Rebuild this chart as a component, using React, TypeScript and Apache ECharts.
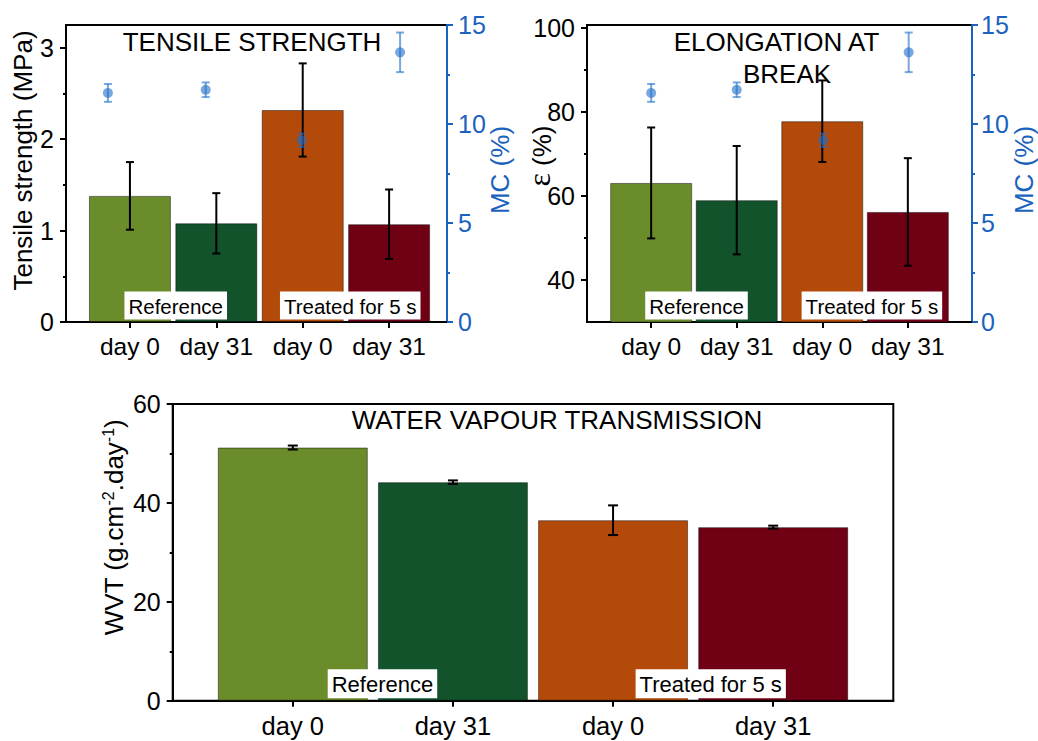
import React, { useEffect, useRef } from 'react';
import * as echarts from 'echarts';

// ---------- data ----------
const categories = ['day 0', 'day 31', 'day 0', 'day 31'];
const catPos = [1, 2, 3, 4];
const groupLabels = ['Reference', 'Treated for 5 s'];
const barColors = ['#6b8c2b', '#12532c', '#b34a0a', '#700014'];

const tsMean = [1.38, 1.08, 2.32, 1.07];
const tsErr = [0.37, 0.33, 0.51, 0.38];
const elMean = [63.1, 59.0, 77.8, 56.2];
const elErr = [13.2, 12.9, 9.7, 12.8];
const mcMean = [11.57, 11.73, 9.18, 13.62];
const mcErr = [0.45, 0.37, 0.34, 1.0];
const mcPosTS = [0.745, 1.877, 2.989, 4.127];
const mcPosEL = [1, 2, 3.01, 4.01];
const wvtMean = [51.2, 44.2, 36.5, 35.1];
const wvtErr = [0.4, 0.35, 3.0, 0.3];

const tsTicks = [0, 1, 2, 3];
const tsMinor = [0.5, 1.5, 2.5];
const elTicks = [40, 60, 80, 100];
const elMinor = [50, 70, 90];

const FONT = "'Liberation Sans', Arial, sans-serif";
const SERIF = "'Liberation Serif', 'DejaVu Serif', serif";
const BLUE = '#1b62be';
const MC_COLOR = 'rgba(30,110,200,0.6)';

const xAxisCfg = (gridIndex: number, min: number, max: number, fontSize: number) => ({
  type: 'value', gridIndex, min, max,
  splitLine: { show: false },
  axisLine: { show: true, onZero: false, lineStyle: { color: '#000', width: 2 } },
  axisTick: { show: true, customValues: catPos, length: 6, lineStyle: { color: '#000', width: 2 } },
  axisLabel: {
    show: true, customValues: catPos, fontSize, color: '#000', margin: 12, fontFamily: FONT,
    formatter: (v: number) => categories[Math.round(v) - 1] ?? '',
  },
});

const leftAxisCfg = (gridIndex: number, min: number, max: number, ticks: number[] | null, name: any, nameGap: number, padLeft: number, rich: any, fontSize: number) => ({
  type: 'value', gridIndex, min, max, position: 'left',
  ...(ticks ? {} : { interval: 20 }),
  splitLine: { show: false },
  axisLine: { show: true, onZero: false, lineStyle: { color: '#000', width: 2 } },
  axisTick: { show: true, ...(ticks ? { customValues: ticks } : {}), length: 6, lineStyle: { color: '#000', width: 2 } },
  minorTick: ticks ? { show: false } : { show: true, splitNumber: 2, length: 3, lineStyle: { color: '#000', width: 2 } },
  axisLabel: { show: true, ...(ticks ? { customValues: ticks } : {}), fontSize, color: '#000', margin: 12, fontFamily: FONT },
  name, nameLocation: 'middle', nameRotate: 90, nameGap, nameMoveOverlap: false,
  nameTextStyle: { fontSize: 26, color: '#000', fontFamily: FONT, padding: [0, 0, 0, padLeft], rich },
});

const minorAxisCfg = (gridIndex: number, min: number, max: number, vals: number[]) => ({
  type: 'value', gridIndex, min, max, position: 'left',
  splitLine: { show: false },
  axisLine: { show: false },
  axisTick: { show: true, customValues: vals, length: 3, lineStyle: { color: '#000', width: 2 } },
  axisLabel: { show: false },
});

const rightAxisCfg = (gridIndex: number, nameGap: number, margin: number) => ({
  type: 'value', gridIndex, min: 0, max: 15, interval: 5, position: 'right',
  splitLine: { show: false },
  axisLine: { show: true, onZero: false, lineStyle: { color: BLUE, width: 2 } },
  axisTick: { show: true, length: 6, lineStyle: { color: BLUE, width: 2 } },
  minorTick: { show: true, splitNumber: 2, length: 3, lineStyle: { color: BLUE, width: 2 } },
  axisLabel: { show: true, fontSize: 25, color: BLUE, margin, fontFamily: FONT },
  name: 'MC (%)', nameLocation: 'middle', nameRotate: 90, nameGap, nameMoveOverlap: false,
  nameTextStyle: { fontSize: 26, color: BLUE, fontFamily: FONT, padding: [0, 0, 0, 7] },
});

const barSeries = (xIdx: number, yIdx: number, means: number[], barWidth: number) => ({
  type: 'bar', xAxisIndex: xIdx, yAxisIndex: yIdx, barWidth, z: 2, silent: true,
  itemStyle: { borderColor: 'rgba(0,0,0,0.45)', borderWidth: 1 },
  data: means.map((m, i) => ({ value: [catPos[i], m], itemStyle: { color: barColors[i] } })),
});

const errorSeries = (xIdx: number, yIdx: number, xs: number[], means: number[], errs: number[], color: string, capW: number, lw: number, z: number) => ({
  type: 'custom', xAxisIndex: xIdx, yAxisIndex: yIdx, z, silent: true,
  encode: { x: 0, y: 1 },
  data: means.map((m, i) => [xs[i], m, errs[i]]),
  renderItem: (_p: any, api: any) => {
    const x = api.value(0), m = api.value(1), e = api.value(2);
    const t = api.coord([x, m + e]);
    const b = api.coord([x, m - e]);
    const h = capW / 2;
    const style = { stroke: color, lineWidth: lw };
    return {
      type: 'group',
      children: [
        { type: 'line', shape: { x1: t[0], y1: t[1], x2: b[0], y2: b[1] }, style },
        { type: 'line', shape: { x1: t[0] - h, y1: t[1], x2: t[0] + h, y2: t[1] }, style },
        { type: 'line', shape: { x1: b[0] - h, y1: b[1], x2: b[0] + h, y2: b[1] }, style },
      ],
    };
  },
});

const mcScatter = (xIdx: number, yIdx: number, xs: number[]) => ({
  type: 'scatter', xAxisIndex: xIdx, yAxisIndex: yIdx, z: 4, silent: true,
  symbolSize: 10, itemStyle: { color: MC_COLOR, opacity: 1 },
  data: mcMean.map((m, i) => [xs[i], m]),
});

const groupLabelSeries = (xIdx: number, yIdx: number, xs: number[], yBase: number, fontSize: number, pad: number[]) => ({
  type: 'scatter', xAxisIndex: xIdx, yAxisIndex: yIdx, z: 6, silent: true,
  symbolSize: 1, itemStyle: { color: 'rgba(0,0,0,0)', opacity: 1 },
  data: xs.map((x, i) => ({ value: [x, yBase], name: groupLabels[i] })),
  label: {
    show: true, position: 'top', distance: 2, formatter: '{b}', color: '#000', opacity: 1,
    fontSize, fontFamily: FONT, backgroundColor: '#ffffff', padding: pad,
  },
});

const titleText = (text: string, x: number, y: number) => ({
  type: 'text', x, y, silent: true, z: 10,
  style: { text, fill: '#000', fontSize: 26, fontFamily: FONT, align: 'center', verticalAlign: 'middle' },
});

export default function App() {
  const ref = useRef<HTMLDivElement>(null);
  useEffect(() => {
    if (!ref.current) return;
    const chart = echarts.init(ref.current, null, { renderer: 'svg' });
    const option: any = {
      animation: false,
      textStyle: { fontFamily: FONT },
      grid: [
        { left: 66, top: 25, width: 381, height: 297, show: true, borderColor: '#000', borderWidth: 2, backgroundColor: 'transparent' },
        { left: 587, top: 25, width: 389, height: 297, show: true, borderColor: '#000', borderWidth: 2, backgroundColor: 'transparent' },
        { left: 172.7, top: 404, width: 720.6, height: 296.7, show: true, borderColor: '#000', borderWidth: 2, backgroundColor: 'transparent' },
      ],
      xAxis: [
        xAxisCfg(0, 0.26, 4.67, 24.5),
        xAxisCfg(1, 0.25, 4.75, 24.5),
        xAxisCfg(2, 0.25, 4.75, 25.5),
      ],
      yAxis: [
        leftAxisCfg(0, 0, 3.25, tsTicks, 'Tensile strength (MPa)', 30, 26, undefined, 25),
        rightAxisCfg(0, 40, 11),
        minorAxisCfg(0, 0, 3.25, tsMinor),
        leftAxisCfg(1, 30, 100.7, elTicks, '{e|ε}{t| (%)}', 30, 35, {
          e: { fontFamily: SERIF, fontSize: 32, color: '#000', lineHeight: 30, verticalAlign: 'middle', padding: [0, 0, 6, 0] },
          t: { fontFamily: FONT, fontSize: 26, color: '#000', lineHeight: 30, verticalAlign: 'middle' },
        }, 25),
        rightAxisCfg(1, 39, 9),
        minorAxisCfg(1, 30, 100.7, elMinor),
        leftAxisCfg(2, 0, 60, null, 'WVT (g.cm{sup|-2}.day{sup|-1})', 46, 50, { sup: { fontSize: 16, verticalAlign: 'top', lineHeight: 15, color: '#000', fontFamily: FONT } }, 25),
      ],
      series: [
        // Tensile strength
        barSeries(0, 0, tsMean, 82),
        errorSeries(0, 0, catPos, tsMean, tsErr, '#000', 8, 2, 3),
        errorSeries(0, 1, mcPosTS, mcMean, mcErr, MC_COLOR, 8, 2, 4),
        mcScatter(0, 1, mcPosTS),
        groupLabelSeries(0, 0, [1.53, 3.55], 0, 20.5, [4, 4, 3, 4]),
        // Elongation
        barSeries(1, 3, elMean, 82),
        errorSeries(1, 3, catPos, elMean, elErr, '#000', 8, 2, 3),
        errorSeries(1, 4, mcPosEL, mcMean, mcErr, MC_COLOR, 8, 2, 4),
        mcScatter(1, 4, mcPosEL),
        groupLabelSeries(1, 3, [1.53, 3.58], 30, 20.5, [4, 4, 3, 4]),
        // WVT
        barSeries(2, 6, wvtMean, 150),
        errorSeries(2, 6, catPos, wvtMean, wvtErr, '#000', 10, 2, 3),
        groupLabelSeries(2, 6, [1.56, 3.61], 0, 22, [4, 4, 3, 4]),
      ],
      graphic: [
        titleText('TENSILE STRENGTH', 252, 41.9),
        titleText('ELONGATION AT', 776.5, 41.9),
        titleText('BREAK', 787, 73.6),
        titleText('WATER VAPOUR TRANSMISSION', 557, 420.3),
      ],
    };
    chart.setOption(option);
    return () => chart.dispose();
  }, []);
  return <div ref={ref} style={{ position: 'fixed', left: 0, top: 0, width: 1038, height: 741, background: '#fff' }} />;
}
